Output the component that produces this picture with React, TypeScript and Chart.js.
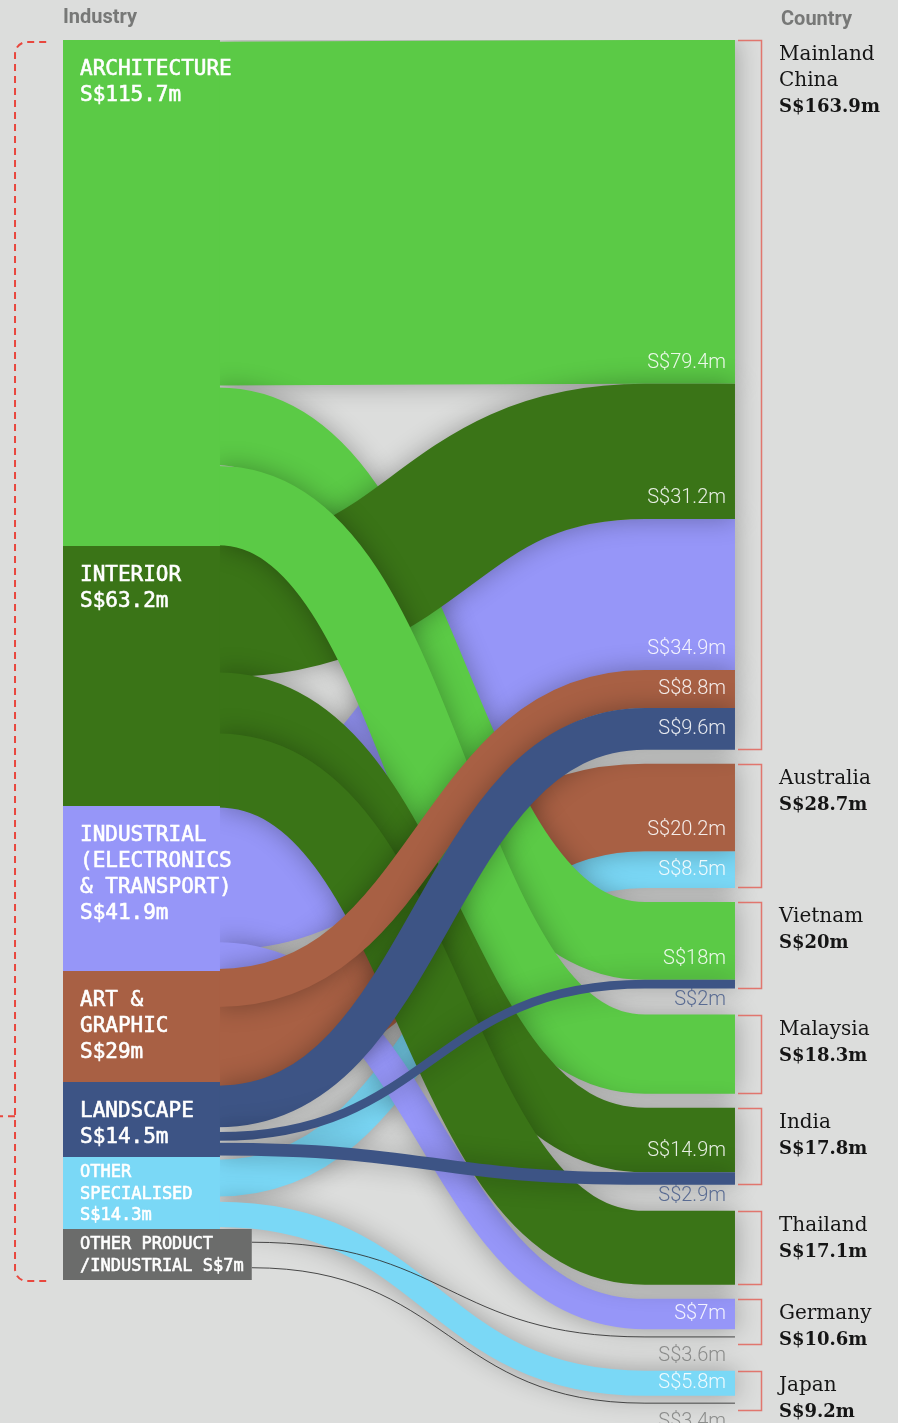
import React, { useEffect, useRef } from "react";
import { Chart, registerables } from "chart.js";

Chart.register(...registerables);

// ---------------- DATA ----------------
const industryLabels = [
  "ARCHITECTURE\n{v}",
  "INTERIOR\n{v}",
  "INDUSTRIAL\n(ELECTRONICS\n& TRANSPORT)\n{v}",
  "ART &\nGRAPHIC\n{v}",
  "LANDSCAPE\n{v}",
  "OTHER\nSPECIALISED\n{v}",
  "OTHER PRODUCT\n/INDUSTRIAL {v}",
];
const industryValues = [115.7, 63.2, 41.9, 29, 14.5, 14.3, 7];

const countryLabels = ["Mainland\nChina", "Australia", "Vietnam", "Malaysia", "India", "Thailand", "Germany", "Japan"];
const countryValues = [163.9, 28.7, 20, 18.3, 17.8, 17.1, 10.6, 9.2];

const linkSources = [0, 0, 0, 1, 1, 1, 2, 2, 3, 3, 4, 4, 4, 5, 5, 6, 6];
const linkTargets = [0, 2, 3, 0, 4, 5, 0, 6, 0, 1, 0, 2, 4, 1, 7, 6, 7];
const linkValues = [79.4, 18, 18.3, 31.2, 14.9, 17.1, 34.9, 7, 8.8, 20.2, 9.6, 2, 2.9, 8.5, 5.8, 3.6, 3.4];

const headerLeft = "Industry";
const headerRight = "Country";

// ---------------- STYLE / LAYOUT ----------------
const BG = "#dcdddc";
const INDUSTRY_COLORS = ["#5bca46", "#3a7417", "#9696f8", "#a86044", "#3d5485", "#7ad8f6", "#6b6c6b"];
const SMALL_LABEL = [false, false, false, false, false, true, true];
const HAIRLINE_SOURCE = 6; // "other product" links drawn as hairlines
const DRAW_ORDER = [0, 6, 13, 7, 9, 1, 3, 2, 4, 5, 14, 8, 10, 11, 12, 15, 16];

// x axis: 0 = left edge of industry column, 100 = end of flows
const X_MIN = -9.375;
const X_MAX = 124.26;
const NODE_RIGHT = 23.36;
const CURVE_END = 86.6;
const FLOW_END = 100;
const BRACKET_TICK = 100.45;
const BRACKET_X = 103.87;
const COUNTRY_LABEL_X = 106.55;
const HEADER_RIGHT_X = 106.85;
const LEFT_BRACKET_X = -7.14;
const LEFT_BRACKET_END = -2.5;

// y axis in S$ million
const Y_MIN = -9.238;
const Y_MAX = 319.4;
const LEFT_TOTAL = 286.4;
const LEFT_EXP = 1.1; // left column emphasises larger industries slightly
const GAP_BASE = 3.23;
const GAP_EXTRA = 2.77;
const THIN_PX = 16;

const sum = (a: number[]) => a.reduce((s, v) => s + v, 0);
const fmt = (v: number) => `S$${v}m`;

function drawSankey(chart: any) {
  const ctx: CanvasRenderingContext2D = chart.ctx;
  const xs = chart.scales.x;
  const ys = chart.scales.y;
  const X = (v: number) => xs.getPixelForValue(v);
  const Y = (v: number) => ys.getPixelForValue(v);
  const k = Y(1) - Y(0);

  const bigFont = "21px 'DejaVu Sans Mono'";
  const smallFont = "17px 'DejaVu Sans Mono'";
  const nodeLines = industryLabels.map((t, i) => t.replace("{v}", fmt(industryValues[i])).split("\n"));

  // left layout: sized by value, but each node at least tall enough for its label
  const minV = nodeLines.map((lines, i) =>
    SMALL_LABEL[i] ? (lines.length * 21.5 + 8) / k : (lines.length * 26 + 23) / k
  );
  const weight = industryValues.map((v) => Math.pow(v, LEFT_EXP));
  const fixed = industryValues.map(() => false);
  let scale = 1;
  for (let iter = 0; iter < 10; iter++) {
    const fixedSum = sum(minV.filter((_, i) => fixed[i]));
    const freeSum = sum(weight.filter((_, i) => !fixed[i]));
    scale = (LEFT_TOTAL - fixedSum) / freeSum;
    let changed = false;
    weight.forEach((w, i) => {
      if (!fixed[i] && w * scale < minV[i]) {
        fixed[i] = true;
        changed = true;
      }
    });
    if (!changed) break;
  }
  const lTop: number[] = [];
  const lH: number[] = [];
  let acc = 0;
  weight.forEach((w, i) => {
    const h = fixed[i] ? minV[i] : w * scale;
    lTop.push(acc);
    lH.push(h);
    acc += h;
  });
  const leftBottom = acc;

  // which target nodes carry a thin link (label shown below the node)
  const hasBelowLabel = countryValues.map(
    (_, j) =>
      linkTargets.some((t, i) => t === j && linkValues[i] * k < THIN_PX) &&
      linkTargets.filter((t) => t === j).length > 1
  );

  // right layout
  const rTop: number[] = [];
  acc = 0;
  countryValues.forEach((v, j) => {
    rTop.push(acc);
    acc += v + GAP_BASE + (hasBelowLabel[j] ? GAP_EXTRA : 0);
  });

  const lOff = industryValues.map(() => 0);
  const rOff = countryValues.map(() => 0);
  const links = linkValues.map((v, i) => {
    const si = linkSources[i];
    const ti = linkTargets[i];
    const share = (v * lH[si]) / industryValues[si];
    const lc = lTop[si] + lOff[si] + share / 2;
    lOff[si] += share;
    const rt = rTop[ti] + rOff[ti];
    rOff[ti] += v;
    return { si, ti, v, lc, rt, rb: rt + v, rc: rt + v / 2 };
  });

  const nodeRightPx = industryValues.map((_, i) => {
    if (i !== HAIRLINE_SOURCE) return X(NODE_RIGHT);
    ctx.save();
    ctx.font = SMALL_LABEL[i] ? smallFont : bigFont;
    const w = Math.max(...nodeLines[i].map((l) => ctx.measureText(l).width));
    ctx.restore();
    return Math.max(X(NODE_RIGHT), X(0) + 17 + w + 8);
  });

  const x0n = X(0);
  const xCurve = X(CURVE_END);
  const xEnd = X(FLOW_END);

  const pathFor = (l: any, startX: number) => {
    const y0 = Y(l.lc);
    const y1 = Y(l.rc);
    const mx = (startX + xCurve) / 2;
    ctx.beginPath();
    ctx.moveTo(startX, y0);
    ctx.bezierCurveTo(mx, y0, mx, y1, xCurve, y1);
    ctx.lineTo(xEnd, y1);
  };

  // ---- links ----
  ctx.save();
  ctx.beginPath();
  ctx.rect(X(NODE_RIGHT) - 2, Y(0), chart.width, chart.height);
  ctx.clip();
  ctx.lineCap = "butt";
  for (const idx of DRAW_ORDER) {
    const l = links[idx];
    if (l.si === HAIRLINE_SOURCE) continue;
    ctx.save();
    ctx.shadowColor = "rgba(0,0,0,0.30)";
    ctx.shadowBlur = 26;
    ctx.strokeStyle = INDUSTRY_COLORS[l.si];
    ctx.lineWidth = l.v * k;
    pathFor(l, X(NODE_RIGHT) - 2);
    ctx.stroke();
    ctx.restore();
  }
  ctx.restore();

  // hairline links
  ctx.save();
  for (const idx of DRAW_ORDER) {
    const l = links[idx];
    if (l.si !== HAIRLINE_SOURCE) continue;
    ctx.strokeStyle = "rgba(45,45,45,0.85)";
    ctx.lineWidth = 1;
    pathFor(l, nodeRightPx[l.si]);
    ctx.stroke();
  }
  ctx.restore();

  // ---- left nodes ----
  ctx.save();
  industryValues.forEach((_, i) => {
    const top = Math.round(Y(lTop[i]));
    const bot = Math.round(Y(lTop[i] + lH[i]));
    ctx.fillStyle = INDUSTRY_COLORS[i];
    ctx.fillRect(x0n, top, nodeRightPx[i] - x0n, bot - top);
    const small = SMALL_LABEL[i];
    ctx.font = small ? smallFont : bigFont;
    ctx.fillStyle = "#ffffff";
    ctx.strokeStyle = "#ffffff";
    ctx.lineWidth = 0.6;
    ctx.textBaseline = "middle";
    ctx.textAlign = "left";
    const lh = small ? 21.5 : 26;
    const first = top + (small ? 16 : 30);
    nodeLines[i].forEach((line, j) => {
      ctx.fillText(line, x0n + 17, first + j * lh);
      ctx.strokeText(line, x0n + 17, first + j * lh);
    });
  });
  ctx.restore();

  // ---- link value labels ----
  ctx.save();
  ctx.textAlign = "right";
  ctx.textBaseline = "middle";
  ctx.font = "300 20px Roboto";
  links.forEach((l) => {
    const count = linkTargets.filter((t) => t === l.ti).length;
    if (count < 2) return;
    const w = l.v * k;
    if (w >= THIN_PX) {
      const yc = Math.max(Y(l.rc), Y(l.rb) - 21);
      ctx.fillStyle = "rgba(255,255,255,0.88)";
      ctx.fillText(fmt(l.v), xEnd - 9, yc);
    } else {
      const nodeBottom = Y(rTop[l.ti] + countryValues[l.ti]);
      ctx.save();
      ctx.globalAlpha = l.si === HAIRLINE_SOURCE ? 0.7 : 0.8;
      ctx.fillStyle = INDUSTRY_COLORS[l.si];
      ctx.fillText(fmt(l.v), xEnd - 9, nodeBottom + 11);
      ctx.restore();
    }
  });
  ctx.restore();

  // ---- right brackets and country labels ----
  ctx.save();
  countryValues.forEach((v, j) => {
    const top = Math.round(Y(rTop[j])) + 0.5;
    const bot = Math.round(Y(rTop[j] + v)) - 0.5;
    const bx = Math.round(X(BRACKET_X)) + 0.5;
    ctx.strokeStyle = "rgba(226,100,90,0.85)";
    ctx.lineWidth = 1.5;
    ctx.beginPath();
    ctx.moveTo(X(BRACKET_TICK), top);
    ctx.lineTo(bx, top);
    ctx.lineTo(bx, bot);
    ctx.lineTo(X(BRACKET_TICK), bot);
    ctx.stroke();

    const lines = countryLabels[j].split("\n");
    ctx.textAlign = "left";
    ctx.textBaseline = "middle";
    ctx.fillStyle = "#151515";
    const first = top + 14;
    ctx.font = "20px 'DejaVu Serif'";
    lines.forEach((line, n) => {
      ctx.fillText(line, X(COUNTRY_LABEL_X), first + n * 26.5);
    });
    ctx.font = "bold 18px 'DejaVu Serif'";
    ctx.fillText(fmt(v), X(COUNTRY_LABEL_X), first + lines.length * 26.5);
  });
  ctx.restore();

  // ---- left dashed bracket ----
  ctx.save();
  const bTop = Y(0) + 2;
  const bBot = Y(leftBottom) + 1;
  const bx = X(LEFT_BRACKET_X);
  const bEnd = X(LEFT_BRACKET_END);
  const r = 12;
  ctx.strokeStyle = "#e8473e";
  ctx.lineWidth = 2;
  ctx.setLineDash([7, 5]);
  ctx.beginPath();
  ctx.moveTo(bEnd, bTop);
  ctx.lineTo(bx + r, bTop);
  ctx.arcTo(bx, bTop, bx, bTop + r, r);
  ctx.lineTo(bx, bBot - r);
  ctx.arcTo(bx, bBot, bx + r, bBot, r);
  ctx.lineTo(bEnd, bBot);
  ctx.stroke();
  const tickY = bTop + 0.867 * (bBot - bTop);
  ctx.beginPath();
  ctx.moveTo(bx, tickY);
  ctx.lineTo(0, tickY);
  ctx.stroke();
  ctx.restore();

  // ---- headers ----
  ctx.save();
  ctx.font = "bold 20px Roboto";
  ctx.fillStyle = "#777877";
  ctx.textBaseline = "middle";
  ctx.textAlign = "left";
  ctx.fillText(headerLeft, x0n, Y(0) - 22);
  ctx.fillText(headerRight, X(HEADER_RIGHT_X), Y(0) - 20);
  ctx.restore();
}

const sankeyPlugin = {
  id: "sankeyDraw",
  beforeDraw(chart: any) {
    const ctx = chart.ctx;
    ctx.save();
    ctx.fillStyle = BG;
    ctx.fillRect(0, 0, chart.width, chart.height);
    ctx.restore();
  },
  afterDatasetsDraw(chart: any) {
    drawSankey(chart);
  },
};

export default function App() {
  const ref = useRef<HTMLCanvasElement | null>(null);
  useEffect(() => {
    document.body.style.margin = "0";
    document.body.style.background = BG;
    const canvas = ref.current;
    if (!canvas) return;
    const chart = new Chart(canvas, {
      type: "scatter",
      data: { datasets: [{ data: [] }] },
      options: {
        responsive: false,
        maintainAspectRatio: false,
        animation: false,
        events: [],
        layout: { padding: 0 },
        plugins: { legend: { display: false }, tooltip: { enabled: false }, title: { display: false } },
        scales: {
          x: { type: "linear", display: false, min: X_MIN, max: X_MAX },
          y: { type: "linear", display: false, min: Y_MIN, max: Y_MAX, reverse: true },
        },
      },
      plugins: [sankeyPlugin],
    } as any);
    return () => chart.destroy();
  }, []);
  return (
    <div style={{ position: "absolute", left: 0, top: 0, width: 898, height: 1423 }}>
      <canvas ref={ref} width={898} height={1423} style={{ display: "block", width: 898, height: 1423 }} />
    </div>
  );
}
